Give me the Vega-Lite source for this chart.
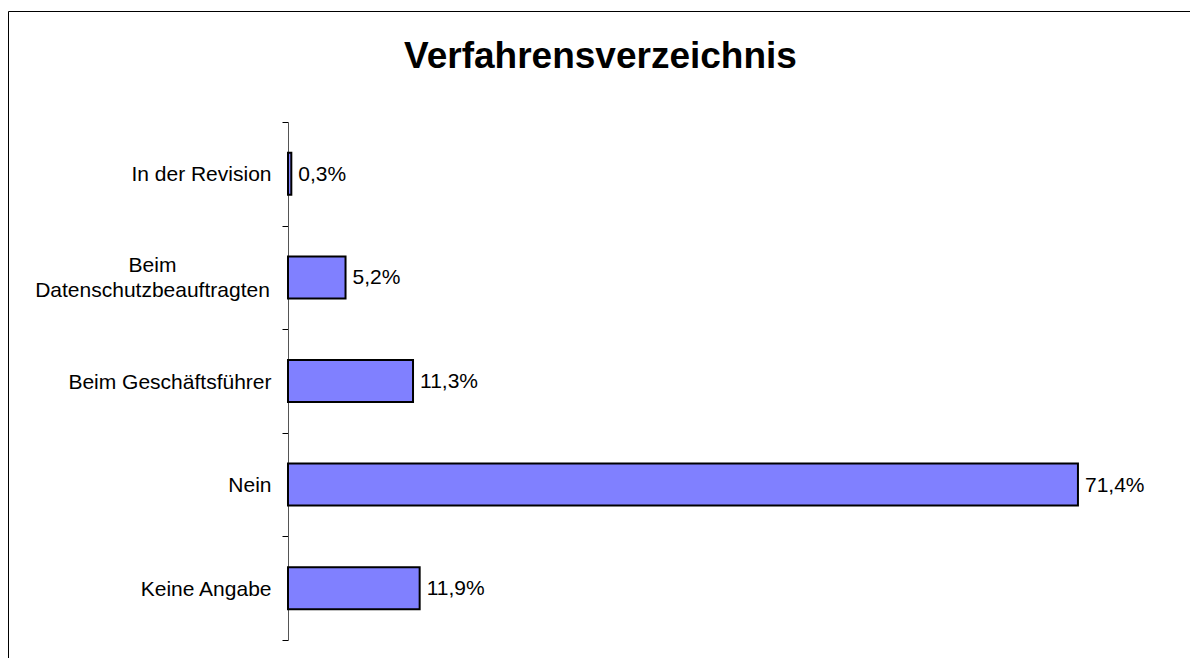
{
  "$schema": "https://vega.github.io/schema/vega-lite/v6.json",
  "autosize": {"type": "none"},
  "padding": {"left": 8, "top": 11, "right": 0, "bottom": 0},
  "width": 1184,
  "height": 660,
  "background": "white",
  "data": {
    "values": [
      {"kategorie": "In der Revision", "anteil": 0.003},
      {"kategorie": "Beim Datenschutzbeauftragten", "anteil": 0.052},
      {"kategorie": "Beim Geschäftsführer", "anteil": 0.113},
      {"kategorie": "Nein", "anteil": 0.714},
      {"kategorie": "Keine Angabe", "anteil": 0.119}
    ]
  },
  "encoding": {
    "y": {
      "field": "kategorie",
      "type": "nominal",
      "sort": null,
      "scale": {"range": [111, 629], "paddingInner": 0, "paddingOuter": 0},
      "axis": {
        "orient": "left",
        "offset": -280,
        "title": null,
        "tickBand": "extent",
        "tickSize": 6,
        "tickColor": "black",
        "domainColor": "#555555",
        "labelFont": "Liberation Sans",
        "labelFontSize": 21,
        "labelColor": "black",
        "labelLimit": 400,
        "labelLineHeight": 25,
        "labelExpr": "datum.value == 'Beim Datenschutzbeauftragten' ? ['Beim', 'Datenschutzbeauftragten'] : datum.value",
        "labelAlign": {"condition": {"test": "datum.value == 'Beim Datenschutzbeauftragten'", "value": "center"}, "value": "right"},
        "labelPadding": {"condition": {"test": "datum.value == 'Beim Datenschutzbeauftragten'", "value": 130}, "value": 11},
        "labelOffset": {"condition": {"test": "datum.value == 'Beim Datenschutzbeauftragten'", "value": -12}, "value": 1}
      }
    },
    "x": {
      "field": "anteil",
      "type": "quantitative",
      "scale": {"domain": [0, 0.8], "range": [280, 1165.1], "nice": false, "zero": true},
      "axis": {
        "orient": "top",
        "title": "Verfahrensverzeichnis",
        "labels": false,
        "ticks": false,
        "domain": false,
        "grid": false,
        "titleFont": "Liberation Sans",
        "titleFontSize": 37,
        "titleFontWeight": "bold",
        "titleColor": "black",
        "titleAlign": "center",
        "titleBaseline": "alphabetic",
        "titleX": 592,
        "titleY": 56
      }
    }
  },
  "layer": [
    {
      "mark": {"type": "bar", "fill": "#8080FF", "stroke": "black", "strokeWidth": 2, "height": {"band": 0.405}}
    },
    {
      "mark": {"type": "text", "align": "left", "baseline": "middle", "dx": 7, "dy": 1, "font": "Liberation Sans", "fontSize": 21, "color": "black"},
      "encoding": {
        "text": {"field": "anteil", "type": "quantitative", "format": ".1%"}
      }
    }
  ],
  "config": {
    "view": {"stroke": "black", "strokeWidth": 1},
    "locale": {"number": {"decimal": ",", "thousands": ".", "grouping": [3], "currency": ["", " €"]}}
  }
}
